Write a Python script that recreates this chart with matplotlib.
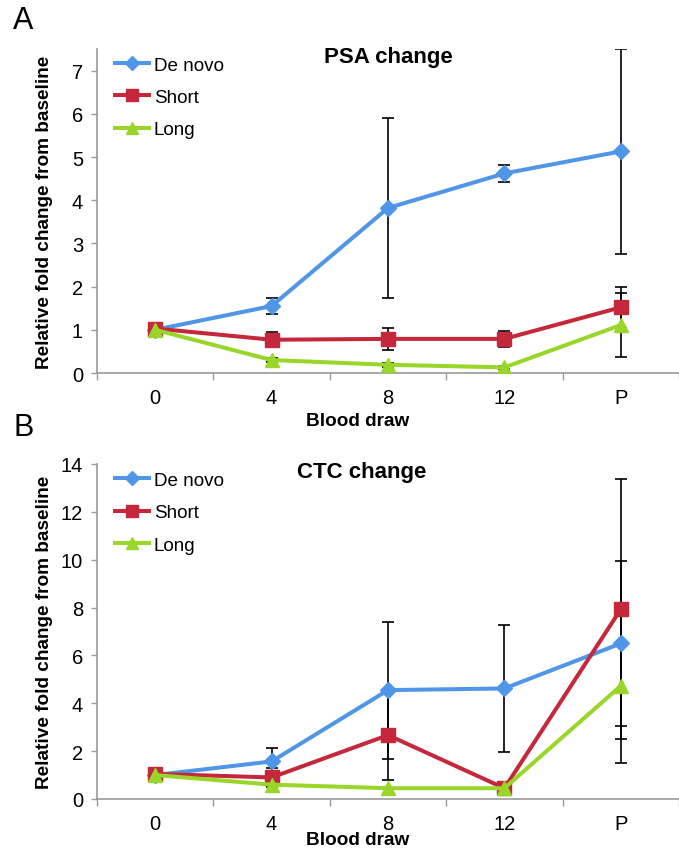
import numpy as np
import matplotlib.pyplot as plt
from matplotlib.lines import Line2D

plt.rcParams['font.family'] = ['Liberation Sans', 'DejaVu Sans']

draws = ['0', '4', '8', '12', 'P']
series = ['De novo', 'Short', 'Long']

# PSA fold change (panel A)
psa_denovo = [1.0, 1.55, 3.82, 4.62, 5.13]
psa_short = [1.03, 0.77, 0.79, 0.79, 1.52]
psa_long = [1.0, 0.30, 0.19, 0.13, 1.11]
psa_denovo_err = [0.0, 0.18, 2.09, 0.20, 2.37]
psa_short_err = [0.0, 0.17, 0.26, 0.18, 0.48]
psa_long_err = [0.0, 0.05, 0.04, 0.03, 0.74]

# CTC fold change (panel B)
ctc_denovo = [1.0, 1.57, 4.55, 4.62, 6.50]
ctc_short = [1.05, 0.90, 2.67, 0.45, 7.93]
ctc_long = [1.0, 0.60, 0.45, 0.45, 4.73]
ctc_denovo_err = [0.0, 0.55, 2.86, 2.64, 3.43]
ctc_short_err = [0.0, 0.40, 1.86, 0.05, 5.44]
ctc_long_err = [0.0, 0.05, 0.03, 0.03, 3.24]

colors = ['#5096e8', '#c5283a', '#9ad62a']
markers = ['D', 's', '^']
msizes = [8.5, 10, 10]

fig = plt.figure(figsize=(6.79, 8.54), dpi=100)
W, H = 679, 854


def panel(rect, vals, errs, ymax, ystep, title, title_x, xlab_y, letter, letter_y):
    ax = fig.add_axes(rect)
    x = np.arange(len(draws))
    for v, e, c, m, ms in zip(vals, errs, colors, markers, msizes):
        ax.errorbar(x, v, yerr=e, color=c, marker=m, markersize=ms, lw=2.9,
                    ecolor='black', elinewidth=1.2, capsize=4, capthick=1.2,
                    zorder=3)
    ax.set_xlim(-0.5, 4.5)
    ax.set_ylim(0, ymax)
    ax.set_yticks(np.arange(0, int(ymax) + 1, ystep))
    ax.set_xticks(x)
    ax.set_xticklabels(draws)
    ax.set_xticks(np.arange(-0.5, 5, 1), minor=True)
    ax.tick_params(axis='x', which='major', length=0, pad=11, labelsize=14.5)
    ax.tick_params(axis='x', which='minor', length=5, width=1, color='#999999')
    ax.tick_params(axis='y', length=4, width=1, color='#999999', pad=6, labelsize=14.5)
    for s in ['top', 'right']:
        ax.spines[s].set_visible(False)
    for s in ['left', 'bottom']:
        ax.spines[s].set_color('#999999')
        ax.spines[s].set_linewidth(1.2)
    ax.set_ylabel('Relative fold change from baseline', fontsize=13.7, fontweight='bold')
    ax.yaxis.set_label_coords(-0.075, 0.5)
    ax.text(0.448, xlab_y, 'Blood draw', transform=ax.transAxes, ha='center',
            va='center', fontsize=13.7, fontweight='bold')
    ax.text(title_x, 0.978, title, transform=ax.transAxes, ha='center',
            va='center', fontsize=16, fontweight='bold')
    handles = [Line2D([], [], color=c, marker=m, markersize=ms - 1, lw=2.9)
               for c, m, ms in zip(colors, markers, msizes)]
    ax.legend(handles, series, loc='upper left', bbox_to_anchor=(0.031, 0.977),
              frameon=False, fontsize=13.6, borderpad=0, borderaxespad=0,
              handlelength=1.8, handletextpad=0.25, labelspacing=0.8)
    fig.text(13 / W, letter_y, letter, fontsize=22, ha='left', va='center')
    return ax


panel([97 / W, 1 - 374 / H, 582 / W, 324 / H],
      [psa_denovo, psa_short, psa_long],
      [psa_denovo_err, psa_short_err, psa_long_err],
      7.5, 1, 'PSA change', 0.5, (374 - 421) / 324, 'A', 1 - 21 / H)
panel([97 / W, 1 - 800 / H, 582 / W, 335 / H],
      [ctc_denovo, ctc_short, ctc_long],
      [ctc_denovo_err, ctc_short_err, ctc_long_err],
      14, 2, 'CTC change', 0.455, (800 - 841) / 335, 'B', 1 - 428 / H)

fig.savefig('out.png', dpi=100)
